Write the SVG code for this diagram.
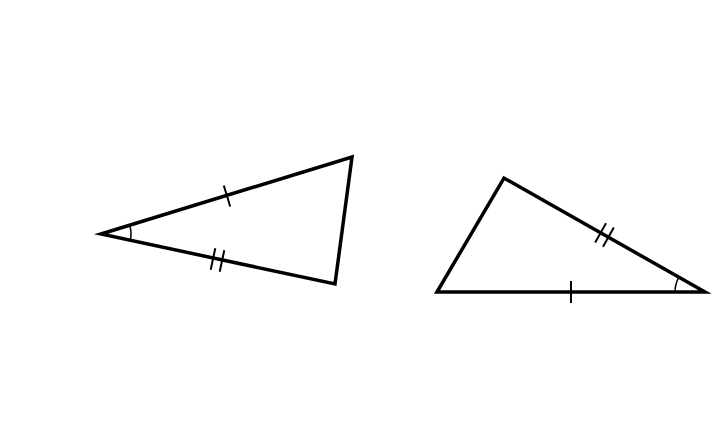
<svg xmlns="http://www.w3.org/2000/svg" width="728" height="422" viewBox="0 0 728 422">
<style>
.tri{fill:none;stroke:#000;stroke-width:3.5;stroke-linejoin:miter}
.tick{stroke:#000;stroke-width:2;fill:none}
.arc{stroke:#000;stroke-width:1.5;fill:none}
</style>
<rect width="728" height="422" fill="#fff"/>
<g id="triangle-left">
<polygon class="tri" points="101,234 352,157 335,284"/>
<line class="tick" x1="223.8" y1="185.5" x2="230.2" y2="206.5"/>
<line class="tick" x1="215.3" y1="248.2" x2="210.7" y2="269.8"/>
<line class="tick" x1="224.3" y1="250.2" x2="219.7" y2="271.8"/>
<path class="arc" d="M129.7,225.2 A30,30 0 0 1 130.3,240.3"/>
</g>
<g id="triangle-right">
<polygon class="tri" points="437,292 504,178 705,292"/>
<line class="tick" x1="571" y1="281" x2="571" y2="303"/>
<line class="tick" x1="606" y1="223.2" x2="595.2" y2="242.4"/>
<line class="tick" x1="613.8" y1="227.6" x2="603" y2="246.8"/>
<path class="arc" d="M678.9,277.2 A30,30 0 0 0 675,292"/>
</g>
</svg>
